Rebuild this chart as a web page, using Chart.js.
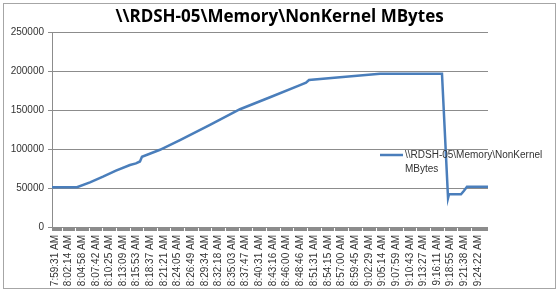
<!DOCTYPE html>
<html>
<head>
<meta charset="utf-8">
<script src="https://cdn.jsdelivr.net/npm/chart.js@4/dist/chart.umd.min.js"></script>
<style>
  html, body { margin: 0; padding: 0; background: #fff; }
  canvas { display: block; }
</style>
</head>
<body>
<canvas id="memChart" width="559" height="293"></canvas>
<script>
const chartTitle = "\\\\RDSH-05\\Memory\\NonKernel MBytes";
const seriesName = "\\\\RDSH-05\\Memory\\NonKernel MBytes";

// axis labels shown under the chart (every ~2:44)
const tickLabels = [
  "7:59:31 AM", "8:02:14 AM", "8:04:58 AM", "8:07:42 AM", "8:10:25 AM", "8:13:09 AM",
  "8:15:53 AM", "8:18:37 AM", "8:21:21 AM", "8:24:05 AM", "8:26:49 AM", "8:29:34 AM",
  "8:32:18 AM", "8:35:03 AM", "8:37:47 AM", "8:40:31 AM", "8:43:16 AM", "8:46:00 AM",
  "8:48:46 AM", "8:51:31 AM", "8:54:15 AM", "8:57:00 AM", "8:59:45 AM", "9:02:29 AM",
  "9:05:14 AM", "9:07:59 AM", "9:10:43 AM", "9:13:27 AM", "9:16:11 AM", "9:18:55 AM",
  "9:21:38 AM", "9:24:22 AM"
];

// samples: seconds after 7:59:31 and MBytes
const sampleSec = [-36, 265, 421, 578, 734, 903, 975, 1023, 1047, 1264, 1505, 1866,
  2227, 2589, 2950, 3022, 3058, 3431, 3913, 4659, 4732, 4744, 4888, 4924, 4960, 5213];
const sampleMB = [51000, 51000, 57300, 64500, 72200, 79500, 81500, 84000, 90000, 99000,
  111500, 130800, 151000, 166300, 182000, 185000, 188500, 192000, 196500, 196500, 37000,
  42000, 42000, 46500, 51500, 51500];

const yTicks = [0, 50000, 100000, 150000, 200000, 250000];

function toSec(label) {
  const parts = label.split(" ")[0].split(":").map(Number);
  return (parts[0] * 3600 + parts[1] * 60 + parts[2]) - (7 * 3600 + 59 * 60 + 31);
}
const tickSecs = tickLabels.map(toSec);

// excel-ish frame, axis band and two line legend
const decorPlugin = {
  id: "decor",
  beforeDraw(chart) {
    const ctx = chart.ctx;
    ctx.save();
    ctx.fillStyle = "#fff";
    ctx.fillRect(0, 0, chart.width, chart.height);
    ctx.strokeStyle = "#a6a6a6";
    ctx.lineWidth = 1;
    ctx.strokeRect(3.5, 3.5, chart.width - 7, chart.height - 8);
    ctx.restore();
  },
  afterDraw(chart) {
    const ctx = chart.ctx;
    const area = chart.chartArea;
    const xs = chart.scales.x;
    ctx.save();
    // grey tick band under the x axis
    ctx.fillStyle = "#8c8c8c";
    ctx.fillRect(area.left, area.bottom, area.right - area.left, 4);
    ctx.strokeStyle = "#fff";
    ctx.lineWidth = 1;
    tickSecs.forEach(s => {
      const px = Math.round(xs.getPixelForValue(s)) - 6.5;
      if (px > area.left + 2) {
        ctx.beginPath();
        ctx.moveTo(px, area.bottom + 1);
        ctx.lineTo(px, area.bottom + 4);
        ctx.stroke();
      }
    });
    // legend
    const lx = area.right - 108, ly = 155;
    ctx.strokeStyle = "#4a7ebb";
    ctx.lineWidth = 2.5;
    ctx.beginPath();
    ctx.moveTo(lx, ly);
    ctx.lineTo(lx + 23, ly);
    ctx.stroke();
    ctx.fillStyle = "#333";
    ctx.font = "10px 'Liberation Sans', Arial, sans-serif";
    ctx.textBaseline = "middle";
    ctx.textAlign = "left";
    const words = seriesName.split(" ");
    ctx.fillText(words[0], lx + 25, ly);
    ctx.fillText(words.slice(1).join(" "), lx + 25, ly + 14);
    ctx.restore();
  }
};

new Chart(document.getElementById("memChart"), {
  type: "line",
  data: {
    datasets: [{
      label: seriesName,
      data: sampleSec.map((s, i) => ({ x: s, y: sampleMB[i] })),
      borderColor: "#4a7ebb",
      borderWidth: 2.5,
      pointRadius: 0,
      tension: 0,
      fill: false
    }]
  },
  options: {
    responsive: false,
    animation: false,
    layout: { padding: { left: 0, right: 0, top: 0, bottom: 3 } },
    plugins: {
      legend: { display: false },
      tooltip: { enabled: false },
      title: {
        display: true,
        text: chartTitle,
        color: "#000",
        font: { family: "'Open Sans', 'Liberation Sans', sans-serif", size: 17, weight: "bold" },
        padding: { top: 7, bottom: 4.6 }
      }
    },
    scales: {
      x: {
        type: "linear",
        min: sampleSec[0],
        max: sampleSec[sampleSec.length - 1],
        afterBuildTicks(scale) {
          scale.ticks = tickSecs.map(v => ({ value: v }));
        },
        afterFit(scale) { scale.height = 63; },
        grid: { display: false },
        border: { display: false },
        ticks: {
          autoSkip: false,
          minRotation: 90,
          maxRotation: 90,
          padding: 0,
          color: "#333",
          font: { family: "'Liberation Sans', Arial, sans-serif", size: 10 },
          callback: function (value) {
            const i = tickSecs.indexOf(value);
            return i >= 0 ? tickLabels[i] : "";
          }
        }
      },
      y: {
        min: 0,
        max: 250000,
        afterBuildTicks(scale) {
          scale.ticks = yTicks.map(v => ({ value: v }));
        },
        afterFit(scale) { scale.width = 52; },
        grid: { color: "#8c8c8c", lineWidth: 1, drawTicks: true, tickLength: 4 },
        border: { color: "#8c8c8c" },
        ticks: {
          color: "#333",
          padding: 4,
          font: { family: "'Liberation Sans', Arial, sans-serif", size: 10 },
          callback: value => String(value)
        }
      },
      // empty box on the right keeps room for the legend
      yRight: {
        position: "right",
        afterFit(scale) { scale.width = 71; },
        grid: { display: false },
        border: { display: false },
        ticks: { display: false }
      }
    }
  },
  plugins: [decorPlugin]
});
</script>
</body>
</html>
